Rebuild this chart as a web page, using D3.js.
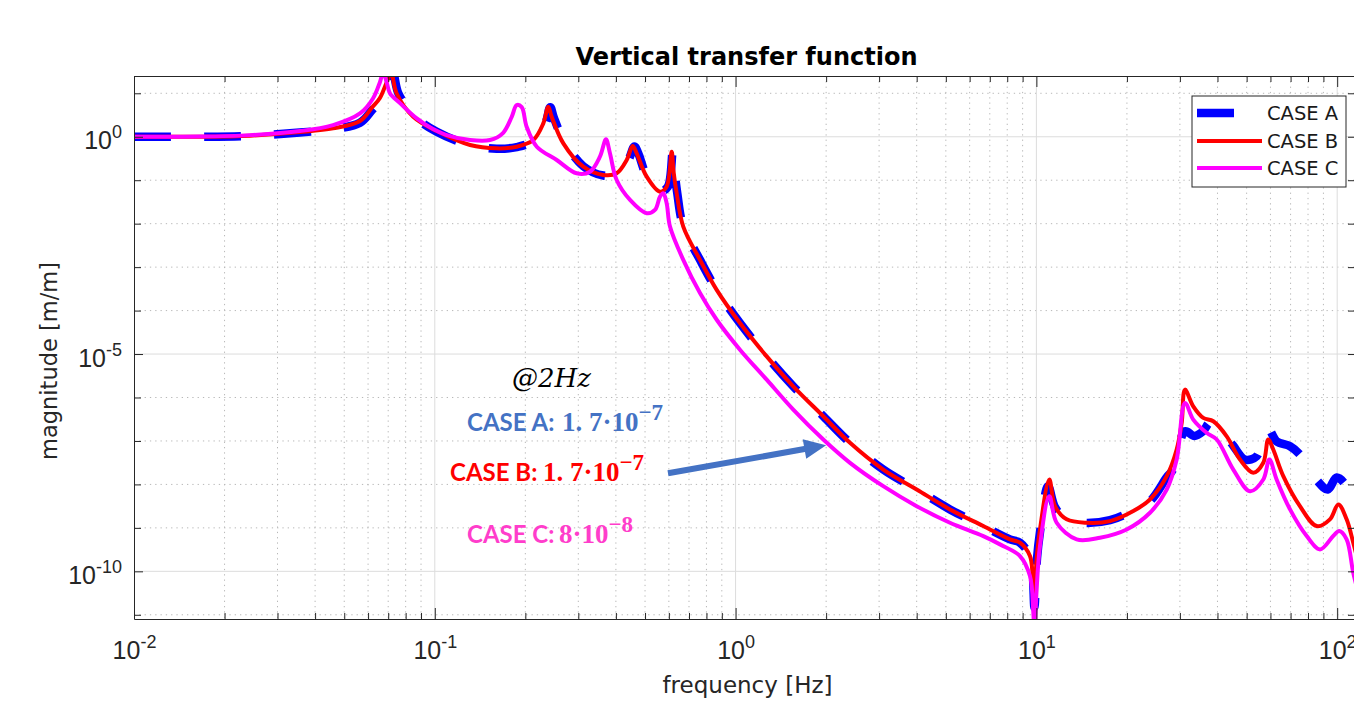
<!DOCTYPE html>
<html>
<head>
<meta charset="utf-8">
<script src="https://cdn.jsdelivr.net/npm/d3@7/dist/d3.min.js"></script>
<style>
  html, body { margin: 0; padding: 0; background: #ffffff; }
  svg { display: block; }
</style>
</head>
<body>
<svg id="chart" width="1354" height="701"></svg>
<script>
// ---------------- DATA ----------------
const seriesNames = ["CASE A", "CASE B", "CASE C"];

const freqA = [0.01, 0.0166, 0.0243, 0.0356, 0.0459, 0.0564, 0.062, 0.0665, 0.07, 0.0725, 0.0757, 0.086, 0.1015, 0.131, 0.1606, 0.1872, 0.2126, 0.233, 0.242, 0.2485, 0.27, 0.3117, 0.3633, 0.4024, 0.44, 0.461, 0.475, 0.5064, 0.5607, 0.595, 0.618, 0.626, 0.64, 0.67, 0.7615, 0.8653, 1.034, 1.269, 1.555, 1.957, 2.401, 3.097, 4.0, 5.16, 6.66, 8.17, 8.82, 9.52, 9.72, 9.85, 10.05, 10.28, 10.93, 11.53, 12.61, 14.7, 17.57, 21.0, 23.86, 27.12, 28.46, 31.2, 33.5, 35.8, 37.8, 40.8, 45.0, 49.4, 54.0, 56.6, 59.0, 62.9, 69.7, 75.2, 79.2, 86.0, 93.1, 99.6, 107.5, 111.4, 119.0];
const magA  = [1.0, 1.0, 1.05, 1.25, 1.5, 2.1, 4.2, 7.5, 17, 30, 9.9, 2.88, 1.3, 0.64, 0.53, 0.58, 0.8, 2.0, 4.8, 2.8, 0.75, 0.21, 0.128, 0.14, 0.29, 0.6, 0.41, 0.125, 0.055, 0.07, 0.45, 0.17, 0.05, 0.0086, 1.47e-3, 3.0e-4, 5.17e-5, 8.83e-6, 1.81e-6, 3.7e-7, 9.05e-8, 2.2e-8, 7.65e-9, 2.66e-9, 1.1e-9, 5.43e-10, 4.56e-10, 2.25e-10, 9e-11, 1.5e-11, 2e-10, 8e-10, 9.1e-9, 3.0e-9, 1.5e-9, 1.3e-9, 1.5e-9, 2.5e-9, 4.12e-9, 1.45e-8, 2.2e-8, 1.67e-7, 1.3e-7, 1.67e-7, 2.65e-7, 2.03e-7, 8e-8, 3.74e-8, 4.45e-8, 1.28e-7, 1.9e-7, 9.8e-8, 7.55e-8, 4.87e-8, 2.87e-8, 1.2e-8, 7.65e-9, 1.44e-8, 9.1e-9, 4.5e-9, 2e-9];

const freqB = [0.01, 0.0166, 0.0243, 0.0356, 0.0459, 0.0564, 0.062, 0.0657, 0.0692, 0.0715, 0.0747, 0.0848, 0.1015, 0.131, 0.1606, 0.1872, 0.2126, 0.2295, 0.2384, 0.2447, 0.2675, 0.3117, 0.3633, 0.4024, 0.4345, 0.4549, 0.469, 0.5064, 0.5607, 0.59, 0.6132, 0.621, 0.637, 0.67, 0.7615, 0.8653, 1.034, 1.269, 1.555, 1.957, 2.401, 3.097, 4.0, 5.16, 6.66, 8.17, 8.82, 9.52, 9.72, 9.82, 10.05, 10.28, 11.04, 11.53, 12.61, 14.7, 17.57, 21.0, 23.86, 27.12, 29.27, 30.41, 31.19, 33.23, 35.88, 38.74, 42.93, 47.53, 52.6, 56.8, 59.0, 61.3, 66.2, 75.2, 85.5, 94.6, 100.9, 107.5, 113.1, 119.1];
const magB  = [1.0, 1.0, 1.06, 1.28, 1.56, 2.3, 4.8, 7.8, 18, 30, 9.9, 2.88, 1.35, 0.645, 0.541, 0.589, 0.84, 2.03, 4.89, 2.88, 0.705, 0.2045, 0.132, 0.1443, 0.2915, 0.611, 0.416, 0.1205, 0.0545, 0.071, 0.452, 0.172, 0.0501, 0.00856, 1.47e-3, 3.0e-4, 5.17e-5, 8.83e-6, 1.81e-6, 3.7e-7, 9.05e-8, 2.2e-8, 7.65e-9, 2.66e-9, 1.1e-9, 5.43e-10, 4.56e-10, 2.25e-10, 7.8e-11, 3.0e-11, 2.5e-10, 9.2e-10, 1.3e-8, 3.16e-9, 1.57e-9, 1.31e-9, 1.43e-9, 2.43e-9, 4.5e-9, 1.55e-8, 6.35e-8, 2.6e-7, 1.52e-6, 6.27e-7, 3.4e-7, 2.84e-7, 1.28e-7, 3.74e-8, 1.85e-8, 3.14e-8, 1.08e-7, 6.35e-8, 1.55e-8, 3.16e-9, 1.1e-9, 1.57e-9, 3.46e-9, 1.57e-9, 4.56e-10, 1.11e-10];

const freqC = [0.01, 0.0166, 0.0243, 0.0356, 0.0459, 0.0564, 0.0623, 0.0657, 0.0674, 0.0693, 0.071, 0.0766, 0.0871, 0.0986, 0.1095, 0.131, 0.1526, 0.1685, 0.1802, 0.1872, 0.1945, 0.202, 0.2183, 0.2543, 0.2962, 0.328, 0.354, 0.3707, 0.3822, 0.4024, 0.4457, 0.5064, 0.5395, 0.5607, 0.575, 0.59, 0.6052, 0.67, 0.7615, 0.8653, 1.034, 1.269, 1.555, 1.957, 2.401, 3.097, 4.0, 5.16, 6.66, 7.57, 8.82, 9.52, 9.77, 9.85, 10.0, 10.28, 11.04, 11.68, 13.61, 16.27, 19.96, 23.86, 27.12, 29.27, 31.19, 33.23, 36.82, 39.77, 45.15, 51.3, 56.8, 59.5, 62.9, 69.7, 79.2, 87.7, 97.0, 101.6, 107.5, 113.1, 119.1];
const magC  = [1.0, 1.01, 1.09, 1.35, 1.86, 3.45, 7.6, 18, 30, 17.1, 9.9, 5.94, 2.65, 1.5, 1.094, 0.84, 0.84, 1.216, 2.88, 5.35, 4.81, 1.7, 0.589, 0.2915, 0.1443, 0.157, 0.347, 0.872, 0.416, 0.101, 0.0351, 0.0174, 0.0207, 0.0418, 0.0501, 0.0295, 0.0086, 1.47e-3, 2.53e-4, 6.15e-5, 1.26e-5, 2.57e-6, 5.27e-7, 1.08e-7, 3.14e-8, 9.1e-9, 3.16e-9, 1.31e-9, 6.47e-10, 4.17e-10, 2.25e-10, 7.8e-11, 1.1e-11, 3e-12, 3e-11, 3.81e-10, 5.37e-9, 1.31e-9, 5.43e-10, 5.94e-10, 9.2e-10, 2.23e-9, 7.65e-9, 3.74e-8, 7.5e-7, 3.1e-7, 1.54e-7, 1.08e-7, 2.2e-8, 7.0e-9, 1.3e-8, 3.74e-8, 1.3e-8, 2.66e-9, 6.47e-10, 3.2e-10, 6.47e-10, 8.43e-10, 5.43e-10, 9.3e-11, 2.3e-11];

const xTickValues    = [0.01, 0.1, 1, 10, 100];
const xTickExponents = ["-2", "-1", "0", "1", "2"];
const yTickValues    = [1, 1e-5, 1e-10];
const yTickExponents = ["0", "-5", "-10"];

const titleText  = "Vertical transfer function";
const xLabelText = "frequency [Hz]";
const yLabelText = "magnitude [m/m]";

// annotation (values at 2 Hz)
const noteHeader  = "@2Hz";
const noteCases   = ["CASE A:", "CASE B:", "CASE C:"];
const noteMantissa = ["1. 7·10", "1. 7·10", "8·10"];
const noteExponent = ["−7", "−7", "−8"];
const arrowFrom = [0.596, 1.8e-8];   // [Hz, m/m]
const arrowTo   = [2.0, 8.0e-8];

// ---------------- LAYOUT / STYLE ----------------
const W = 1354, H = 701;
const P = { left: 134, top: 76, right: 1356, bottom: 619 };
const axisColor = "#262626";
const styles = [
  { color: "#0000ff", width: 8.5, dash: "37,33" },
  { color: "#ff0000", width: 4,   dash: null },
  { color: "#ff00ff", width: 4,   dash: null }
];
const noteColors = ["#4472c4", "#ff0000", "#ff3dcb"];

const svg = d3.select("#chart");
svg.append("rect").attr("width", W).attr("height", H).attr("fill", "#ffffff");

const x = d3.scaleLog().domain([0.01, 115.5]).range([P.left, P.right]);
const y = d3.scaleLog().domain([8e-12, 25]).range([P.bottom, P.top]);

// minor positions
const xMinor = [];
for (let e = -2; e <= 2; e++) for (let k = 2; k <= 9; k++) { const v = k * Math.pow(10, e); if (v < 115.5) xMinor.push(v); }
const xDecades = xTickValues;
const yDecades = d3.range(-11, 2).map(e => Math.pow(10, e));
const isLabeledY = v => yTickValues.some(t => Math.abs(Math.log10(t) - Math.log10(v)) < 1e-6);
const yMinor = yDecades.filter(v => !isLabeledY(v));

// ---------------- GRID ----------------
const grid = svg.append("g");
grid.selectAll(".gxm").data(xMinor).join("line")
  .attr("x1", d => x(d)).attr("x2", d => x(d)).attr("y1", P.top).attr("y2", P.bottom)
  .attr("stroke", "#b8b8b8").attr("stroke-width", 1).attr("stroke-dasharray", "1.3,4");
grid.selectAll(".gym").data(yMinor).join("line")
  .attr("x1", P.left).attr("x2", P.right).attr("y1", d => y(d)).attr("y2", d => y(d))
  .attr("stroke", "#b8b8b8").attr("stroke-width", 1).attr("stroke-dasharray", "1.3,4");
grid.selectAll(".gxM").data(xDecades.slice(1)).join("line")
  .attr("x1", d => x(d)).attr("x2", d => x(d)).attr("y1", P.top).attr("y2", P.bottom)
  .attr("stroke", "#dcdcdc").attr("stroke-width", 1);
grid.selectAll(".gyM").data(yTickValues).join("line")
  .attr("x1", P.left).attr("x2", P.right).attr("y1", d => y(d)).attr("y2", d => y(d))
  .attr("stroke", "#dcdcdc").attr("stroke-width", 1);

// ---------------- CURVES ----------------
svg.append("clipPath").attr("id", "plotclip").append("rect")
  .attr("x", P.left).attr("y", P.top).attr("width", P.right - P.left).attr("height", P.bottom - P.top);

const line = d3.line().x(d => x(d[0])).y(d => y(d[1])).curve(d3.curveCatmullRom.alpha(0.5));
const seriesData = [
  d3.zip(freqA, magA),
  d3.zip(freqB, magB),
  d3.zip(freqC, magC)
];
const curves = svg.append("g").attr("clip-path", "url(#plotclip)");
seriesData.forEach((data, i) => {
  curves.append("path").datum(data)
    .attr("d", line)
    .attr("fill", "none")
    .attr("stroke", styles[i].color)
    .attr("stroke-width", styles[i].width)
    .attr("stroke-linejoin", "round")
    .attr("stroke-dasharray", styles[i].dash);
});

// ---------------- AXES ----------------
function styleAxis(g) {
  g.attr("color", axisColor);
  g.select(".domain").attr("stroke-width", 1);
  g.selectAll(".tick line").attr("stroke-width", 1);
}
function expLabels(g, exps, supSize, supDy) {
  g.selectAll(".tick text").each(function (d, i) {
    const t = d3.select(this);
    t.text(null);
    t.append("tspan").text("10");
    t.append("tspan").attr("dy", supDy).attr("font-size", supSize).text(exps[i]);
  });
}
const tickFont = "'Liberation Sans Narrow', 'Liberation Sans', Arial, sans-serif";

// bottom
const gB = svg.append("g").attr("transform", `translate(0,${P.bottom})`)
  .call(d3.axisBottom(x).tickValues(xTickValues).tickSizeInner(-11).tickSizeOuter(0).tickPadding(0).tickFormat(() => ""));
styleAxis(gB);
gB.selectAll(".tick text").attr("y", 40).attr("dy", 0)
  .attr("font-family", tickFont).attr("font-size", 25).attr("fill", axisColor);
expLabels(gB, xTickExponents, 18, -11);
const gBm = svg.append("g").attr("transform", `translate(0,${P.bottom})`)
  .call(d3.axisBottom(x).tickValues(xMinor).tickSizeInner(-6).tickSizeOuter(0).tickFormat(() => ""));
styleAxis(gBm); gBm.select(".domain").remove();

// top
const gT = svg.append("g").attr("transform", `translate(0,${P.top})`)
  .call(d3.axisTop(x).tickValues(xTickValues).tickSizeInner(-11).tickSizeOuter(0).tickFormat(() => ""));
styleAxis(gT);
const gTm = svg.append("g").attr("transform", `translate(0,${P.top})`)
  .call(d3.axisTop(x).tickValues(xMinor).tickSizeInner(-6).tickSizeOuter(0).tickFormat(() => ""));
styleAxis(gTm); gTm.select(".domain").remove();

// left
const gL = svg.append("g").attr("transform", `translate(${P.left},0)`)
  .call(d3.axisLeft(y).tickValues(yTickValues).tickSizeInner(-9).tickSizeOuter(0).tickPadding(0).tickFormat(() => ""));
styleAxis(gL);
gL.selectAll(".tick text").attr("x", -12).attr("dy", 12)
  .attr("font-family", tickFont).attr("font-size", 25).attr("fill", axisColor).attr("text-anchor", "end");
expLabels(gL, yTickExponents, 18, -11);
const gLm = svg.append("g").attr("transform", `translate(${P.left},0)`)
  .call(d3.axisLeft(y).tickValues(yMinor).tickSizeInner(-7).tickSizeOuter(0).tickFormat(() => ""));
styleAxis(gLm); gLm.select(".domain").remove();

// right
const gR = svg.append("g").attr("transform", `translate(${P.right},0)`)
  .call(d3.axisRight(y).tickValues(yDecades).tickSizeInner(-8).tickSizeOuter(0).tickFormat(() => ""));
styleAxis(gR);

// ---------------- TITLE & LABELS ----------------
svg.append("text").attr("x", 746.5).attr("y", 64.5).attr("text-anchor", "middle")
  .attr("font-family", "'DejaVu Sans', sans-serif").attr("font-weight", "bold").attr("font-size", 24)
  .attr("fill", "#000").text(titleText);
svg.append("text").attr("x", 747.5).attr("y", 693).attr("text-anchor", "middle")
  .attr("font-family", "'DejaVu Sans', sans-serif").attr("font-size", 23)
  .attr("fill", axisColor).text(xLabelText);
svg.append("text").attr("transform", "translate(57,361) rotate(-90)").attr("text-anchor", "middle")
  .attr("font-family", "'DejaVu Sans', sans-serif").attr("font-size", 22.5)
  .attr("fill", axisColor).text(yLabelText);

// ---------------- LEGEND ----------------
const leg = svg.append("g");
leg.append("rect").attr("x", 1192).attr("y", 96).attr("width", 154).attr("height", 91)
  .attr("fill", "#fff").attr("stroke", axisColor).attr("stroke-width", 1);
const legY = [113, 141, 168];
seriesNames.forEach((name, i) => {
  leg.append("line").attr("x1", 1197).attr("x2", 1262).attr("y1", legY[i]).attr("y2", legY[i])
    .attr("stroke", styles[i].color).attr("stroke-width", styles[i].width)
    .attr("stroke-dasharray", styles[i].dash);
  leg.append("text").attr("x", 1267).attr("y", legY[i] + 7)
    .attr("font-family", "'DejaVu Sans', sans-serif").attr("font-size", 19.5)
    .attr("fill", "#1a1a1a").text(name);
});

// ---------------- ANNOTATION ----------------
const ann = svg.append("g");
ann.append("text").attr("x", 512).attr("y", 387)
  .attr("font-family", "'DejaVu Serif', serif").attr("font-style", "italic").attr("font-size", 26)
  .attr("fill", "#000").text(noteHeader);
const notePos = [{ x: 467, y: 431, mx: 562 }, { x: 450, y: 481, mx: 543 }, { x: 467, y: 543, mx: 559 }];
noteCases.forEach((c, i) => {
  const t = ann.append("text").attr("x", notePos[i].x).attr("y", notePos[i].y).attr("fill", noteColors[i]);
  t.append("tspan").attr("font-family", "Lato, 'Open Sans', sans-serif").attr("font-weight", "bold")
    .attr("font-size", 24).text(c);
  t.append("tspan").attr("x", notePos[i].mx).attr("font-family", "'Liberation Serif', serif")
    .attr("font-weight", "bold").attr("font-size", 27).text(noteMantissa[i]);
  t.append("tspan").attr("dy", -11).attr("font-family", "'Liberation Serif', serif")
    .attr("font-weight", "bold").attr("font-size", 23).text(noteExponent[i]);
});
// arrow anchored in data space
(function () {
  const x0 = x(arrowFrom[0]), y0 = y(arrowFrom[1]);
  const x1 = x(arrowTo[0]), y1 = y(arrowTo[1]);
  const dx = x1 - x0, dy = y1 - y0, L = Math.hypot(dx, dy);
  const ux = dx / L, uy = dy / L, nx = -uy, ny = ux;
  const headL = 22, headW = 10, shaftW = 3;
  const bx = x1 - ux * headL, by = y1 - uy * headL;
  const pts = [
    [x0 + nx * shaftW, y0 + ny * shaftW],
    [bx + nx * shaftW, by + ny * shaftW],
    [bx + nx * headW, by + ny * headW],
    [x1, y1],
    [bx - nx * headW, by - ny * headW],
    [bx - nx * shaftW, by - ny * shaftW],
    [x0 - nx * shaftW, y0 - ny * shaftW]
  ];
  ann.append("polygon").attr("points", pts.map(p => p.join(",")).join(" ")).attr("fill", "#4472c4");
})();
</script>
</body>
</html>
